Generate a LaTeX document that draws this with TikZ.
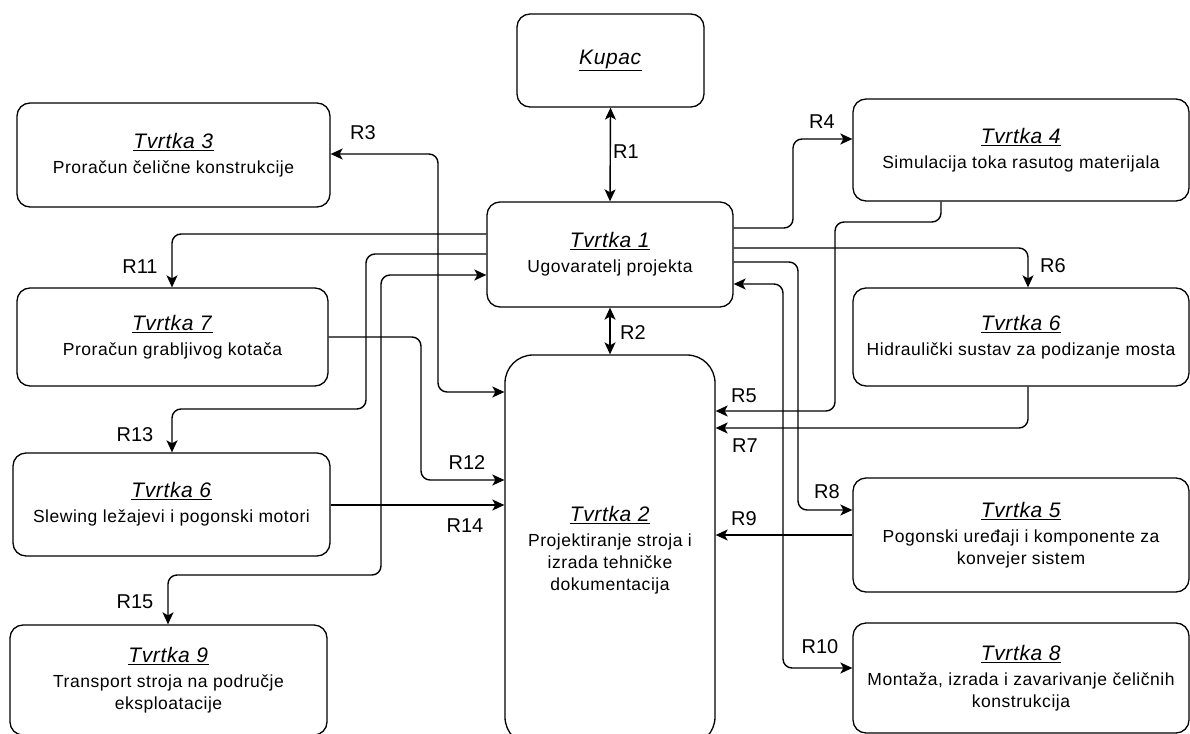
\documentclass[tikz,border=0pt]{standalone}
\usepackage{fontspec}
\setmainfont{Liberation Sans}
\usetikzlibrary{arrows.meta}

\newcommand{\firma}[1]{{\fontsize{21}{24}\selectfont\underline{\textit{#1}}}}

\begin{document}
\begin{tikzpicture}[x=1pt,y=-1pt,
    box/.style={draw,line width=1.3pt,align=center,inner sep=2pt,
      font=\fontsize{17.5}{22}\selectfont\addfontfeature{LetterSpace=3}},
    link/.style={line width=1.4pt,rounded corners=9pt,
      -{Stealth[length=12pt,width=11pt,inset=3pt]}},
    both/.style={link,{Stealth[length=12pt,width=11pt,inset=3pt]}-{Stealth[length=12pt,width=11pt,inset=3pt]}},
    lbl/.style={font=\fontsize{20}{24}\selectfont}]
  \useasboundingbox (0,0) rectangle (1190,733);
  \clip (0,0) rectangle (1190,733);
  \def \Nodes{
    t1/610/254.5/246/105/13/{Tvrtka 1}/{Ugovaratelj projekta},
    t2/610/550/210/390/28/{Tvrtka 2}/{Projektiranje stroja i\\izrada tehničke\\dokumentacija},
    t3/173.5/155/313/104/13/{Tvrtka 3}/{Proračun čelične konstrukcije},
    t7/172.5/337/311/98/13/{Tvrtka 7}/{Proračun grabljivog kotača},
    t6l/171.5/504.5/317/103/13/{Tvrtka 6}/{Slewing ležajevi i pogonski motori},
    t9/168.5/680/317/110/13/{Tvrtka 9}/{Transport stroja na područje\\eksploatacije},
    t4/1021/150/336/102/13/{Tvrtka 4}/{Simulacija toka rasutog materijala},
    t6r/1021/337/336/98/13/{Tvrtka 6}/{Hidraulički sustav za podizanje mosta},
    t5/1021/535/336/114/13/{Tvrtka 5}/{Pogonski uređaji i komponente za\\konvejer sistem},
    t8/1021/678/336/110/13/{Tvrtka 8}/{Montaža, izrada i zavarivanje čeličnih\\konstrukcija}}
  \foreach \id / \x / \y / \w / \h / \r / \t / \d in \Nodes{
    \node[box,rounded corners=\r pt,minimum width=\w pt,minimum height=\h pt] (\id) at (\x,\y) {\firma{\t}\\[3pt]\d};
  }
  \node[box,rounded corners=13pt,minimum width=187pt,minimum height=93pt] (kupac) at (610.5,60.5) {\firma{Kupac}};

  % veze
  \draw[both] (kupac.south) -- (t1.north);
  \draw[both] (t1.south) -- (t2.north);
  \draw[both] (t2.west |- 0,392) -| (438,154) -- (t3.east |- 0,154);
  \draw[link] (t1.east |- 0,228) -| (793,139) -- (t4.west |- 0,139);
  \draw[link] (t4.south -| 941,0) |- (835,222) |- (t2.east |- 0,411);
  \draw[link] (t1.east |- 0,248) -| (t6r.north -| 1028,0);
  \draw[link] (t6r.south -| 1028,0) |- (t2.east |- 0,428);
  \draw[link] (t1.east |- 0,262) -| (798,510) -- (t5.west |- 0,510);
  \draw[link] (t5.west |- 0,535) -- (t2.east |- 0,535);
  \draw[both] (t1.east |- 0,284) -| (783,668) -- (t8.west |- 0,668);
  \draw[link] (t1.west |- 0,234) -| (t7.north -| 172,0);
  \draw[link] (t7.east |- 0,337) -| (421,480) -- (t2.west |- 0,480);
  \draw[link] (t1.west |- 0,254) -| (366,409) -| (t6l.north -| 172,0);
  \draw[link] (t6l.east |- 0,505) -- (t2.west |- 0,505);
  \draw[both] (t1.west |- 0,275) -| (381,575) -| (t9.north -| 168,0);

  \foreach \id / \x / \y in {1/626/152, 2/633/333, 3/363/133, 4/822/122,
      5/744/396, 6/1053/266, 7/745/446, 8/827/492, 9/744/519, 10/820/647,
      11/140/267, 12/467/463, 13/135/435, 14/465/526, 15/135/602}{
    \node[lbl] (r\id) at (\x,\y) {R\id};
  }
\end{tikzpicture}
\end{document}
